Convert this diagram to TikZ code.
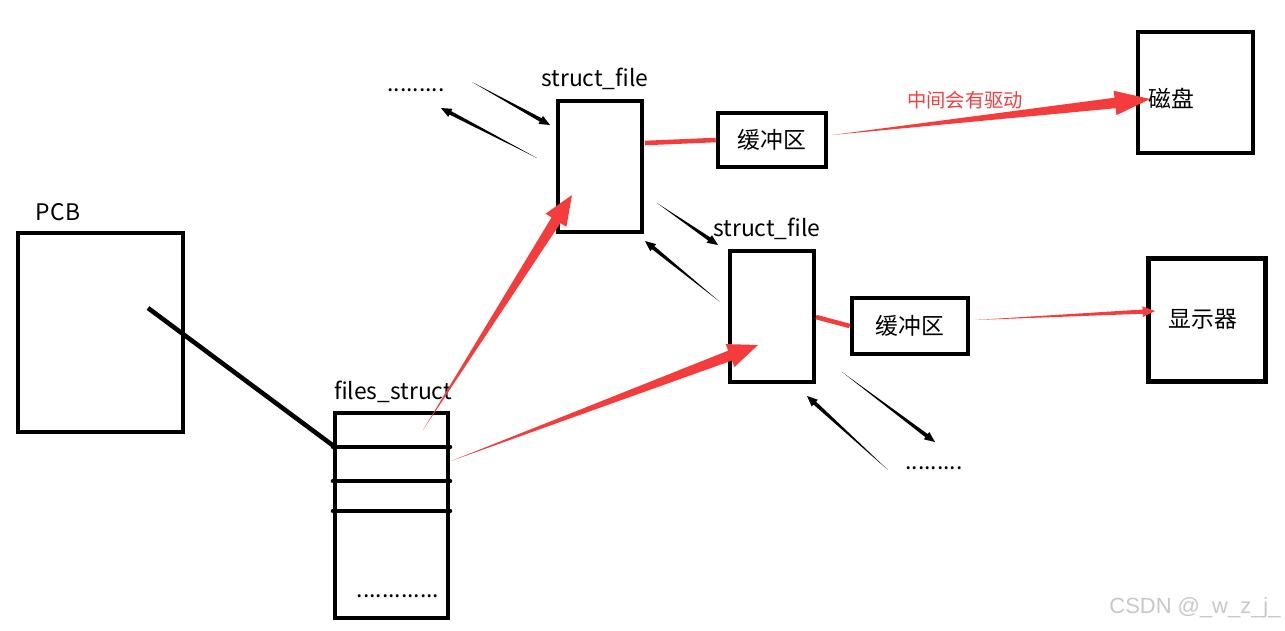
\documentclass[tikz,border=0pt]{standalone}
\usepackage{fontspec}
\setmainfont{Noto Sans CJK SC}
\usepackage{tikz}
\usetikzlibrary{calc,positioning}
\definecolor{arrred}{RGB}{245,60,60}
\definecolor{markgray}{RGB}{200,200,200}

% tapered arrow: from, to, colour, shaft half width, head length, head half width
\newcommand{\taperarrow}[6]{%
  \coordinate (tb) at ($(#2)!#5!(#1)$);
  \fill[#3] (#1) -- ($(tb)!#4!90:(#2)$) -- ($(tb)!#6!90:(#2)$) -- (#2)
    -- ($(tb)!#6!-90:(#2)$) -- ($(tb)!#4!-90:(#2)$) -- cycle;
}

\tikzset{
  box/.style={draw, line width=2.6pt},
  lbl/.style={font=\fontsize{13}{15}\selectfont},
  cn/.style={font=\fontsize{13}{15}\selectfont},
  dots/.style={font=\fontsize{13}{15}\selectfont},
  redlink/.style={draw=arrred, line width=2.6pt},
}

\begin{document}
\begin{tikzpicture}[x=0.02cm, y=-0.02cm]
\useasboundingbox (0,0) rectangle (1285,630);

% PCB
\draw[box] (18,233) rectangle (183,432);
\node[lbl] (pcb) at (58,212) {PCB};
\coordinate (pcbin) at (148,308);

% files_struct
\draw[box] (335,413) rectangle (448,618);
\node[lbl] (fslbl) at (393,392) {files\_struct};
\foreach \y in {447,481,511}{
  \draw[line width=2.6pt, line cap=round] (333,\y) -- (450,\y);
}
\node[dots] (fsdots) at (398,596) {.............};
\coordinate (fsa) at (335,447);
\draw[line width=2.6pt] (pcbin) -- (fsa);

% struct_file 1
\draw[box] (558,101) rectangle (642,232);
\node[lbl] (sf1lbl) at (595,79) {struct\_file};
% struct_file 2
\draw[box] (730,251) rectangle (814,382);
\node[lbl] (sf2lbl) at (767,229) {struct\_file};

% buffers
\node[box, cn, minimum width=108*0.02cm, minimum height=54*0.02cm, inner sep=0pt] (buf1) at (772,140) {缓冲区};
\node[box, cn, minimum width=116*0.02cm, minimum height=56*0.02cm, inner sep=0pt] (buf2) at (910,326) {缓冲区};

% devices
\draw[box] (1138,32) rectangle (1253,153);
\node[cn, anchor=west] (disk) at (1142,99) {磁盘};
\node[box, cn, minimum width=117*0.02cm, minimum height=123*0.02cm, inner sep=0pt] (screen) at (1207,320) {};
\node[cn] (scrtxt) at (1203,319) {显示器};

% red links
\coordinate (sf1r) at (645,143);
\coordinate (sf2r) at (816,317);
\draw[redlink] (sf1r) -- (buf1.west);
\draw[redlink] (sf2r) -- (buf2.west);

\coordinate (b1out) at (832,135);
\coordinate (disktip) at (1150,99);
\taperarrow{b1out}{disktip}{arrred}{3pt}{20pt}{7pt}
\node[text=arrred, font=\fontsize{11}{13}\selectfont] (drv) at (965,100) {中间会有驱动};

\coordinate (b2out) at (975,320);
\coordinate (scrtip) at (1155,311);
\taperarrow{b2out}{scrtip}{arrred}{1.2pt}{7pt}{3pt}

\coordinate (fs1) at (423,430);
\coordinate (sf1tip) at (572,195);
\taperarrow{fs1}{sf1tip}{arrred}{3pt}{17pt}{7pt}

\coordinate (fs2) at (451,461);
\coordinate (sf2tip) at (758,345);
\taperarrow{fs2}{sf2tip}{arrred}{3pt}{17pt}{7pt}

% black links to neighbours
\node[dots] (dotsa) at (416,90) {.........};
\node[dots] (dotsb) at (934,468) {.........};
\coordinate (k1a) at (472,82);  \coordinate (k1b) at (550,125);
\coordinate (k2a) at (537,158); \coordinate (k2b) at (441,108);
\coordinate (k3a) at (657,203); \coordinate (k3b) at (718,245);
\coordinate (k4a) at (720,302); \coordinate (k4b) at (645,241);
\coordinate (k5a) at (842,372); \coordinate (k5b) at (935,442);
\coordinate (k6a) at (888,470); \coordinate (k6b) at (807,396);
\foreach \k in {1,...,6}{
  \taperarrow{k\k a}{k\k b}{black}{1.1pt}{6pt}{2.6pt}
}

% watermark
\node[text=markgray, font=\fontsize{12.5}{14}\selectfont\fontspec{Liberation Sans}] (wm) at (1195,608) {CSDN @\_w\_z\_j\_};
\end{tikzpicture}
\end{document}
